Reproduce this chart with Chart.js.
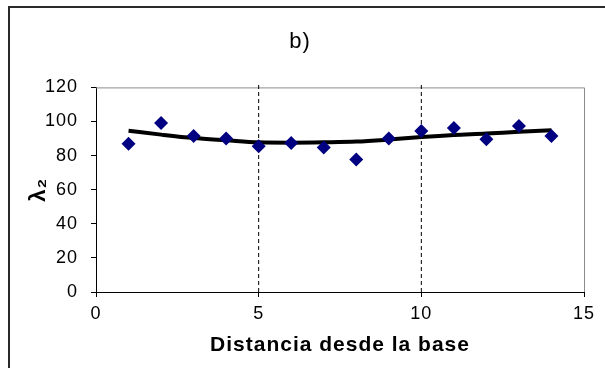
<!DOCTYPE html>
<html>
<head>
<meta charset="utf-8">
<script src="https://cdn.jsdelivr.net/npm/chart.js@4"></script>
<style>
  html, body { margin: 0; padding: 0; background: #fff; overflow: hidden; }
  #wrap { position: relative; width: 605px; height: 368px; }
  #frame { position: absolute; left: 8px; top: 6px; width: 700px; height: 500px;
           border-left: 2px solid #2a2a2a; border-top: 2px solid #2a2a2a; box-sizing: border-box; }
  canvas { position: absolute; left: 0; top: 0; }
</style>
</head>
<body>
<div id="wrap">
  <div id="frame"></div>
  <canvas id="c" width="605" height="368"></canvas>
</div>
<script>
// Data
const distances = [1, 2, 3, 4, 5, 6, 7, 8, 9, 10, 11, 12, 13, 14];
const lambda2 = [87.0, 99.1, 91.5, 90.0, 85.5, 87.4, 84.7, 77.7, 90.0, 94.4, 96.2, 89.6, 97.4, 91.5];
const trendValues = [94.6, 92.3, 90.3, 89.0, 87.8, 87.6, 87.8, 88.2, 89.4, 90.9, 92.1, 92.9, 94.0, 94.8];
const dividerX = [5, 10];
const dividerY = [0, 122];
const xTicks = [0, 5, 10, 15];
const yTicks = [0, 20, 40, 60, 80, 100, 120];

const FONT = 'Arial, "Liberation Sans", sans-serif';

const points = distances.map((d, i) => ({ x: d, y: lambda2[i] }));
const trend = distances.map((d, i) => ({ x: d, y: trendValues[i] }));
const dividerSets = dividerX.map(v => ({
  type: 'line',
  data: dividerY.map(y => ({ x: v, y: y })),
  borderColor: '#000',
  borderWidth: 1,
  borderDash: [4, 3],
  pointRadius: 0,
  clip: false,
  order: 3
}));

const textSpacing = {
  id: 'textSpacing',
  beforeUpdate(chart) { chart.ctx.letterSpacing = '1px'; },
  beforeDraw(chart) { chart.ctx.letterSpacing = '1px'; }
};

const plotBorder = {
  id: 'plotBorder',
  beforeDatasetsDraw(chart) {
    const { ctx, chartArea: a } = chart;
    ctx.save();
    ctx.strokeStyle = '#8c8c8c';
    ctx.lineWidth = 1;
    ctx.beginPath();
    ctx.moveTo(a.left, a.top + 0.5);
    ctx.lineTo(a.right + 0.5, a.top + 0.5);
    ctx.lineTo(a.right + 0.5, a.bottom);
    ctx.stroke();
    ctx.restore();
  }
};

new Chart(document.getElementById('c'), {
  type: 'scatter',
  data: {
    datasets: [
      ...dividerSets,
      {
        type: 'line',
        data: trend,
        borderColor: '#000',
        borderWidth: 4,
        pointRadius: 0,
        tension: 0.4,
        cubicInterpolationMode: 'monotone',
        order: 2
      },
      {
        data: points,
        pointStyle: 'rectRot',
        pointRadius: 7,
        backgroundColor: '#000080',
        borderColor: '#000080',
        borderWidth: 0,
        order: 1
      }
    ]
  },
  options: {
    responsive: false,
    animation: false,
    events: [],
    layout: { padding: { left: 16, right: 21, top: 0, bottom: 0 } },
    plugins: {
      legend: { display: false },
      tooltip: { enabled: false },
      title: {
        display: true,
        text: 'b)',
        color: '#000',
        font: { family: FONT, size: 22, weight: 'normal', lineHeight: 1.2 },
        padding: { top: 29, bottom: 32 }
      }
    },
    scales: {
      x: {
        type: 'linear',
        min: 0, max: 15,
        afterBuildTicks(scale) { scale.ticks = xTicks.map(v => ({ value: v })); },
        afterFit(scale) { scale.height = 76; },
        grid: { display: true, drawOnChartArea: false, drawTicks: true, tickLength: 5, color: '#000' },
        border: { display: true, color: '#000', width: 1 },
        ticks: { color: '#000', padding: 6, font: { family: FONT, size: 18 }, maxRotation: 0 },
        title: {
          display: true,
          text: 'Distancia desde la base',
          color: '#000',
          font: { family: FONT, size: 21, weight: 'bold', lineHeight: 1.2 },
          padding: { top: 0, bottom: 10 }
        }
      },
      y: {
        type: 'linear',
        min: 0, max: 120,
        afterBuildTicks(scale) { scale.ticks = yTicks.map(v => ({ value: v })); },
        afterFit(scale) { scale.width = 80; },
        grid: { display: true, drawOnChartArea: false, drawTicks: true, tickLength: 5, color: '#000' },
        border: { display: true, color: '#000', width: 1 },
        ticks: { color: '#000', padding: 13, font: { family: FONT, size: 18 } },
        title: {
          display: true,
          text: 'λ₂',
          color: '#000',
          font: { family: FONT, size: 22, weight: 'bold', lineHeight: 1.2 },
          padding: { top: 10, bottom: 0 }
        }
      }
    }
  },
  plugins: [textSpacing, plotBorder]
});
</script>
</body>
</html>
